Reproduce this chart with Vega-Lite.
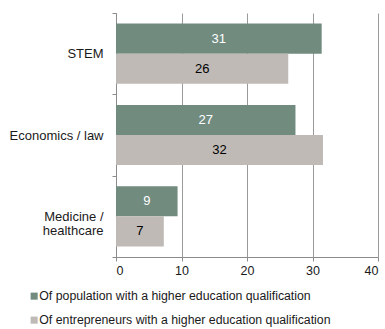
{
  "$schema": "https://vega.github.io/schema/vega-lite/v6.json",
  "width": 262,
  "height": 244,
  "autosize": {"type": "none"},
  "padding": {"left": 116, "top": 13, "right": 7, "bottom": 72},
  "background": "white",
  "config": {
    "view": {"stroke": null},
    "font": "Liberation Sans",
    "axis": {"labelFont": "Liberation Sans", "labelColor": "#1a1a1a"},
    "legend": {"labelFont": "Liberation Sans"}
  },
  "data": {
    "values": [
      {"field": "STEM", "series": "Of population with a higher education qualification", "value": 31.4},
      {"field": "STEM", "series": "Of entrepreneurs with a higher education qualification", "value": 26.3},
      {"field": "Economics / law", "series": "Of population with a higher education qualification", "value": 27.4},
      {"field": "Economics / law", "series": "Of entrepreneurs with a higher education qualification", "value": 31.6},
      {"field": "Medicine / healthcare", "series": "Of population with a higher education qualification", "value": 9.4},
      {"field": "Medicine / healthcare", "series": "Of entrepreneurs with a higher education qualification", "value": 7.3}
    ]
  },
  "encoding": {
    "y": {
      "field": "field",
      "type": "nominal",
      "sort": ["STEM", "Economics / law", "Medicine / healthcare"],
      "scale": {"paddingInner": 0, "paddingOuter": 0},
      "axis": {
        "title": null,
        "tickBand": "extent",
        "domainColor": "#8c8c8c",
        "tickColor": "#8c8c8c",
        "tickSize": 4,
        "labelPadding": 9,
        "labelFontSize": 13,
        "labelLineHeight": 14,
        "labelExpr": "datum.value == 'Medicine / healthcare' ? ['Medicine /', 'healthcare'] : datum.value"
      }
    },
    "yOffset": {
      "field": "series",
      "type": "nominal",
      "sort": ["Of population with a higher education qualification", "Of entrepreneurs with a higher education qualification"],
      "scale": {"paddingInner": 0, "paddingOuter": 0.35}
    }
  },
  "layer": [
    {
      "mark": {"type": "bar"},
      "encoding": {
        "x": {
          "field": "value",
          "type": "quantitative",
          "scale": {"domain": [0, 40], "nice": false},
          "axis": {
            "title": null,
            "values": [0, 10, 20, 30, 40],
            "grid": true,
            "gridColor": "#9a9a9a",
            "domainColor": "#8c8c8c",
            "tickColor": "#8c8c8c",
            "tickSize": 4,
            "labelFontSize": 12.5,
            "labelPadding": 3
          }
        },
        "color": {
          "field": "series",
          "type": "nominal",
          "sort": ["Of population with a higher education qualification", "Of entrepreneurs with a higher education qualification"],
          "scale": {"range": ["#718b7f", "#bfbab6"]},
          "legend": {
            "title": null,
            "orient": "none",
            "direction": "vertical",
            "legendX": -88,
            "legendY": 277,
            "symbolType": "square",
            "symbolSize": 50,
            "symbolStrokeWidth": 0,
            "symbolOpacity": 1,
            "labelFontSize": 12.3,
            "labelColor": "#1a1a1a",
            "labelOffset": -1,
            "rowPadding": 11,
            "labelLimit": 400
          }
        }
      }
    },
    {
      "transform": [{"calculate": "datum.value / 2", "as": "mid"}],
      "mark": {"type": "text", "fontSize": 13, "align": "center", "baseline": "middle"},
      "encoding": {
        "x": {"field": "mid", "type": "quantitative"},
        "text": {"field": "value", "type": "quantitative", "format": ".0f"},
        "color": {
          "condition": {"test": "datum.series == 'Of population with a higher education qualification'", "value": "#ffffff"},
          "value": "#000000"
        }
      }
    }
  ]
}
